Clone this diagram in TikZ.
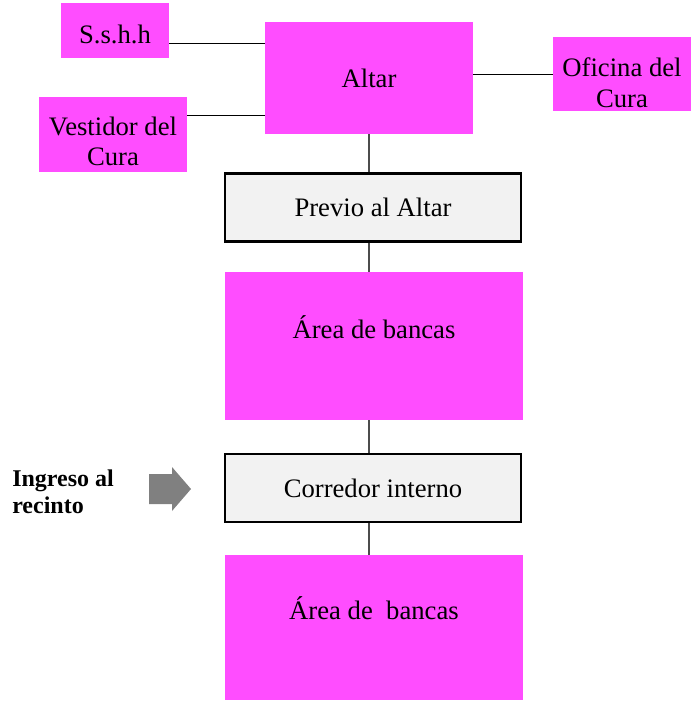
\documentclass[tikz,border=0pt]{standalone}
\usepackage{fontspec}
\setmainfont{Liberation Serif}
\usetikzlibrary{positioning, calc}
\definecolor{rosa}{RGB}{255,77,255}
\definecolor{grisclaro}{RGB}{242,242,242}
\newcommand{\px}{0.75pt}
\tikzset{
    planta/.style={font=\fontsize{20}{23}\selectfont, inner sep=0pt},
    rosabox/.style={fill=rosa, align=center},
    % side rooms: text sits a little below the middle, so it goes in a label
    ladobox/.style={rosabox},
    every label/.style={align=center, inner sep=0pt},
    bancabox/.style={rosabox, minimum width=298*\px, text height=14pt, text depth=26pt},
    grisbox/.style={draw, line width=1.8pt, fill=grisclaro, minimum width=295.6*\px, minimum height=68*\px},
    enlace/.style={black!70, line width=0.9pt},
    lateral/.style={black, line width=0.75pt},
}
\begin{document}
\begin{tikzpicture}[x=\px, y=-\px, planta]
    \useasboundingbox (0,0) rectangle (691,701);

    \node[ladobox, minimum width=108*\px, minimum height=55*\px,
          label={[yshift=-3pt]center:S.s.h.h}] (sshh) at (115,30.5) {};
    \node[rosabox, minimum width=208*\px, minimum height=112*\px] (altar) at (369,78) {Altar};
    \node[ladobox, minimum width=148*\px, minimum height=75*\px,
          label={[yshift=-5.25pt]center:Vestidor del\\Cura}] (vestidor) at (113,134.5) {};
    \node[ladobox, minimum width=138*\px, minimum height=74*\px,
          label={[yshift=-6.4pt]center:Oficina del\\Cura}] (oficina) at (622,74) {};

    \node[grisbox] (previo) at (373,207.5) {Previo al Altar};
    \node[bancabox, minimum height=148*\px] (bancas1) at (374,346) {Área de bancas};
    \node[grisbox] (corredor) at (373,488) {Corredor interno};
    \node[bancabox, minimum height=145*\px] (bancas2) at (374,627.5) {Área de\ \ bancas};

    % entrance
    \node[font=\bfseries\fontsize{18}{20}\selectfont, align=left, anchor=west] (ingreso) at (12,492) {Ingreso al\\recinto};
    \coordinate (flecha) at (191,489);
    \fill[gray] (flecha) -- ++(-19,-22) -- ++(0,7) -- ++(-23,0) -- ++(0,30) -- ++(23,0) -- ++(0,7) -- cycle;

    \draw[lateral] ([yshift=-10pt]sshh.east) -- ([yshift=-10pt]sshh.east -| altar.west);
    \draw[lateral] ([yshift=14.6pt]vestidor.east) -- ([yshift=14.6pt]vestidor.east -| altar.west);
    \draw[lateral] (altar.east |- oficina.west) -- (oficina.west);

    \draw[enlace] (altar.south) -- (previo.north -| altar.south);
    \draw[enlace] (previo.south -| altar.south) -- (bancas1.north -| altar.south);
    \draw[enlace] (bancas1.south -| altar.south) -- (corredor.north -| altar.south);
    \draw[enlace] (corredor.south -| altar.south) -- (bancas2.north -| altar.south);
\end{tikzpicture}
\end{document}
